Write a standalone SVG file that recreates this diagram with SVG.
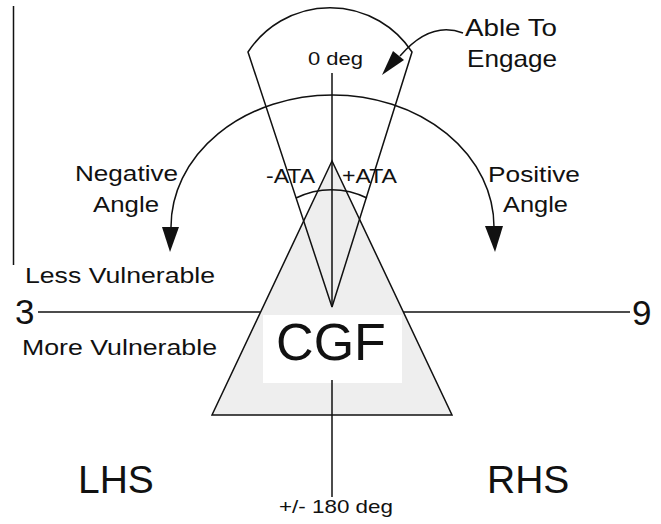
<svg xmlns="http://www.w3.org/2000/svg" width="661" height="524" viewBox="0 0 661 524">
<style>
.ln{fill:none;stroke:#111;stroke-width:1.5}
.t{font-family:"Liberation Sans",Arial,sans-serif;fill:#111}
.ah{fill:#111;stroke:none}
</style>
<rect width="661" height="524" fill="#fff"/>
<g id="edge-line">
<line class="ln" x1="13.5" y1="6" x2="13.5" y2="265"/>
</g>
<g id="cgf">
<polygon points="332,161 212,415 452,415" fill="#eeeeee" stroke="#111" stroke-width="1.5"/>
<rect x="263" y="315" width="139" height="68" fill="#fff"/>
<text class="t" x="331" y="360" font-size="52" text-anchor="middle">CGF</text>
</g>
<g id="engage-zone">
<path class="ln" d="M332 307 L248 52 A98 98 0 0 1 412 52 L332 307"/>
</g>
<g id="connectors">
<line class="ln" x1="332" y1="73" x2="332" y2="307"/>
<line class="ln" x1="332" y1="380" x2="332" y2="497"/>
<line class="ln" x1="38" y1="312" x2="260" y2="312"/>
<line class="ln" x1="403" y1="312" x2="630" y2="312"/>
<path class="ln" d="M171 227 A161.5 132 0 1 1 494 227"/>
<polygon class="ah" points="162,227 179,227 170,252"/>
<polygon class="ah" points="485,226 503,226 495,252"/>
<path class="ln" d="M296 198 A80 80 0 0 1 367 198"/>
<path class="ln" d="M463 33 C445 26 424 28 400 56"/>
<polygon class="ah" points="382,75 393,51 404,60"/>
</g>
<g id="labels">
<text class="t" x="308" y="65" font-size="19" textLength="55" lengthAdjust="spacingAndGlyphs">0 deg</text>
<text class="t" x="465" y="36" font-size="24" textLength="92" lengthAdjust="spacingAndGlyphs">Able To</text>
<text class="t" x="467" y="67" font-size="24" textLength="90" lengthAdjust="spacingAndGlyphs">Engage</text>
<text class="t" x="75" y="181" font-size="22" textLength="103" lengthAdjust="spacingAndGlyphs">Negative</text>
<text class="t" x="93" y="212" font-size="22" textLength="66" lengthAdjust="spacingAndGlyphs">Angle</text>
<text class="t" x="488" y="182" font-size="22" textLength="92" lengthAdjust="spacingAndGlyphs">Positive</text>
<text class="t" x="503" y="212" font-size="22" textLength="65" lengthAdjust="spacingAndGlyphs">Angle</text>
<text class="t" x="266" y="183" font-size="20" textLength="49" lengthAdjust="spacingAndGlyphs">-ATA</text>
<text class="t" x="342" y="183" font-size="20" textLength="55" lengthAdjust="spacingAndGlyphs">+ATA</text>
<text class="t" x="25" y="283" font-size="22" textLength="190" lengthAdjust="spacingAndGlyphs">Less Vulnerable</text>
<text class="t" x="22" y="355" font-size="22" textLength="195" lengthAdjust="spacingAndGlyphs">More Vulnerable</text>
<text class="t" x="15" y="324" font-size="35">3</text>
<text class="t" x="632" y="325" font-size="35">9</text>
<text class="t" x="78" y="493" font-size="39">LHS</text>
<text class="t" x="487" y="493" font-size="39">RHS</text>
<text class="t" x="279" y="513" font-size="19" textLength="114" lengthAdjust="spacingAndGlyphs">+/- 180 deg</text>
</g>
</svg>
